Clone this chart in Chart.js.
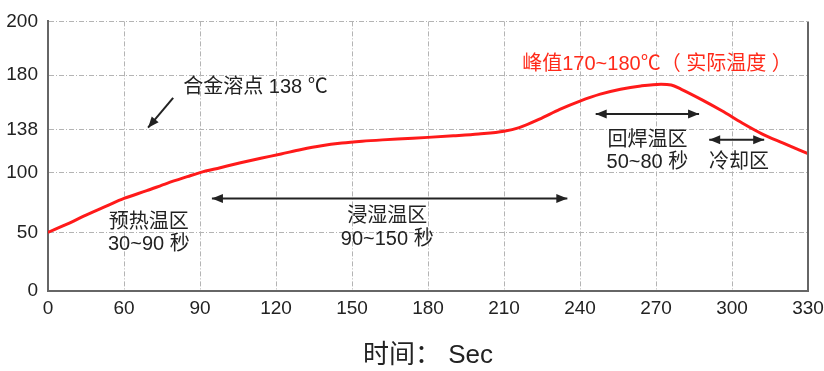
<!DOCTYPE html>
<html lang="zh">

<head>
    <meta charset="UTF-8">
    <title>回流焊温度曲线</title>
    <script src="https://cdn.jsdelivr.net/npm/chart.js@4.4.0/dist/chart.umd.min.js"></script>
    <style>
        html, body { margin: 0; padding: 0; background: #fff; }
        .graph-container { width: 824px; height: 371px; }
    </style>
</head>

<body>
    <div class="graph-container">
        <canvas id="myChart"></canvas>
    </div>

    <script>
        // 轴刻度
        const xTicks = [0, 60, 90, 120, 150, 180, 210, 240, 270, 300, 330];
        const yTicks = [0, 50, 100, 138, 180, 200];

        // 温度曲线 (秒, ℃)
        const times = [0, 15, 30, 46, 60, 69, 77, 85, 90, 98, 106, 114, 122, 130, 138, 146, 154, 162, 170,
            180, 190, 200, 210, 216, 224, 232, 240, 248, 256, 264, 272, 276, 280, 288, 296, 304, 312, 320, 330];
        const temps = [50, 57, 64.5, 72, 78.5, 85, 91.2, 96.8, 100.2, 104.5, 108.8, 112.8, 116.6, 120.6, 123.9, 126.2, 127.8, 129, 130,
            131.2, 132.6, 134.2, 136.6, 139.6, 146.1, 153.6, 160, 165.3, 169.1, 171.6, 172.9, 172.4, 169, 161.1, 152.5, 143.1, 134.1, 126.3, 116.8];

        const FONT = '"Liberation Sans", "Noto Sans CJK SC", sans-serif';
        const INK = '#222';

        // 刻度在轴上的相对位置 (原图不是等距的)
        const tickPos = {
            x: xTicks.map((v, i) => i / (xTicks.length - 1)),
            y: [0, 0.2173, 0.4383, 0.5985, 0.8011, 1]
        };
        const tickVals = { x: xTicks, y: yTicks };

        // 分段线性的刻度
        class PiecewiseScale extends Chart.LinearScale {
            buildTicks() {
                return tickVals[this.id].map(v => ({ value: v }));
            }
            getDecimalForValue(value) {
                const vals = tickVals[this.id], pos = tickPos[this.id];
                let i = 0;
                while (i < vals.length - 2 && value > vals[i + 1]) i++;
                const f = (value - vals[i]) / (vals[i + 1] - vals[i]);
                return pos[i] + f * (pos[i + 1] - pos[i]);
            }
            getPixelForValue(value) {
                return this.getPixelForDecimal(this.getDecimalForValue(value));
            }
            getValueForPixel(pixel) {
                const d = this.getDecimalForPixel(pixel);
                const vals = tickVals[this.id], pos = tickPos[this.id];
                let i = 0;
                while (i < pos.length - 2 && d > pos[i + 1]) i++;
                const f = (d - pos[i]) / (pos[i + 1] - pos[i]);
                return vals[i] + f * (vals[i + 1] - vals[i]);
            }
        }
        PiecewiseScale.id = 'piecewise';
        PiecewiseScale.defaults = {};
        Chart.register(PiecewiseScale);

        // 标注文字 (数据坐标)
        const notes = [
            { text: '合金溶点 138 ℃', x: 83.4, y: 170.8, align: 'left', color: INK, size: 20 },
            { text: '预热温区', x: 69.8, y: 58.2, align: 'center', color: INK, size: 20 },
            { text: '30~90 秒', x: 69.8, y: 39.4, align: 'center', color: INK, size: 20 },
            { text: '浸湿温区', x: 163.9, y: 63.2, align: 'center', color: INK, size: 20 },
            { text: '90~150 秒', x: 163.9, y: 43.6, align: 'center', color: INK, size: 20 },
            { text: '峰值170~180℃（ 实际温度 ）', x: 217.2, y: 184, align: 'left', color: '#ff2a1a', size: 20 },
            { text: '回焊温区', x: 266.6, y: 128.4, align: 'center', color: INK, size: 20 },
            { text: '50~80 秒', x: 266.6, y: 109.4, align: 'center', color: INK, size: 20 },
            { text: '冷却区', x: 302.8, y: 109.4, align: 'center', color: INK, size: 20 }
        ];
        // 箭头
        const arrows = [
            { from: [79.4, 162.4], to: [69.5, 139.5], both: false },
            { from: [94.7, 78.5], to: [235, 78.5], both: true },
            { from: [246.2, 150], to: [287, 150], both: true },
            { from: [291, 129], to: [312.7, 129], both: true }
        ];

        function drawHead(ctx, x0, y0, x1, y1) {
            const a = Math.atan2(y1 - y0, x1 - x0);
            const len = 11, w = 4.5;
            ctx.beginPath();
            ctx.moveTo(x1, y1);
            ctx.lineTo(x1 - len * Math.cos(a) + w * Math.sin(a), y1 - len * Math.sin(a) - w * Math.cos(a));
            ctx.lineTo(x1 - len * Math.cos(a) - w * Math.sin(a), y1 - len * Math.sin(a) + w * Math.cos(a));
            ctx.closePath();
            ctx.fill();
        }

        const notePlugin = {
            id: 'notes',
            afterDatasetsDraw(chart) {
                const { ctx, chartArea, scales: { x, y } } = chart;
                ctx.save();
                // 右边框
                ctx.strokeStyle = '#666';
                ctx.lineWidth = 2;
                ctx.beginPath();
                ctx.moveTo(chartArea.right, chartArea.top);
                ctx.lineTo(chartArea.right, chartArea.bottom);
                ctx.stroke();

                notes.forEach(n => {
                    ctx.font = `${n.size}px ${FONT}`;
                    ctx.fillStyle = n.color;
                    ctx.textAlign = n.align;
                    ctx.textBaseline = 'middle';
                    ctx.fillText(n.text, x.getPixelForValue(n.x), y.getPixelForValue(n.y));
                });

                ctx.strokeStyle = INK;
                ctx.fillStyle = INK;
                ctx.lineWidth = 2;
                arrows.forEach(a => {
                    const x0 = x.getPixelForValue(a.from[0]), y0 = y.getPixelForValue(a.from[1]);
                    const x1 = x.getPixelForValue(a.to[0]), y1 = y.getPixelForValue(a.to[1]);
                    ctx.beginPath();
                    ctx.moveTo(x0, y0);
                    ctx.lineTo(x1, y1);
                    ctx.stroke();
                    drawHead(ctx, x0, y0, x1, y1);
                    if (a.both) drawHead(ctx, x1, y1, x0, y0);
                });
                ctx.restore();
            }
        };

        const gridColor = '#b4b4b4';
        const dash = [5, 2, 1, 2];

        const ctx = document.getElementById('myChart').getContext('2d');
        const chart = new Chart(ctx, {
            type: 'line',
            data: {
                datasets: [{
                    label: '温度',
                    data: times.map((t, i) => ({ x: t, y: temps[i] })),
                    borderColor: '#ff1a1a',
                    borderWidth: 3,
                    pointRadius: 0,
                    fill: false,
                    cubicInterpolationMode: 'monotone'
                }]
            },
            options: {
                responsive: true,
                maintainAspectRatio: false,
                animation: false,
                events: [],
                layout: { padding: { top: 20, right: 16, bottom: 0, left: 0 } },
                plugins: {
                    legend: { display: false },
                    tooltip: { enabled: false }
                },
                scales: {
                    x: {
                        type: 'piecewise',
                        min: 0,
                        max: 330,
                        afterFit: s => {
                            s.height = 80;
                            s.paddingLeft = 0;
                            s.paddingRight = 0;
                        },
                        grid: {
                            drawTicks: false,
                            color: c => (c.index === 0 || c.index === xTicks.length - 1) ? 'rgba(0,0,0,0)' : gridColor,
                            lineWidth: 1
                        },
                        border: { display: true, color: '#666', width: 2, dash: dash },
                        ticks: {
                            padding: 6,
                            color: INK,
                            font: { family: FONT, size: 19 },
                            maxRotation: 0,
                            autoSkip: false,
                            callback: v => String(v)
                        },
                        title: {
                            display: true,
                            text: '时间： Sec',
                            color: INK,
                            font: { family: FONT, size: 26 },
                            padding: { top: 0, bottom: 0 }
                        }
                    },
                    y: {
                        type: 'piecewise',
                        min: 0,
                        max: 200,
                        afterFit: s => { s.width = 48; },
                        grid: {
                            drawTicks: false,
                            color: c => c.index === 0 ? 'rgba(0,0,0,0)' : gridColor,
                            lineWidth: 1
                        },
                        border: { display: true, color: '#666', width: 2, dash: dash },
                        ticks: {
                            padding: 10,
                            color: INK,
                            font: { family: FONT, size: 19 },
                            autoSkip: false,
                            callback: v => String(v)
                        }
                    }
                }
            },
            plugins: [notePlugin]
        });
    </script>
</body>

</html>
